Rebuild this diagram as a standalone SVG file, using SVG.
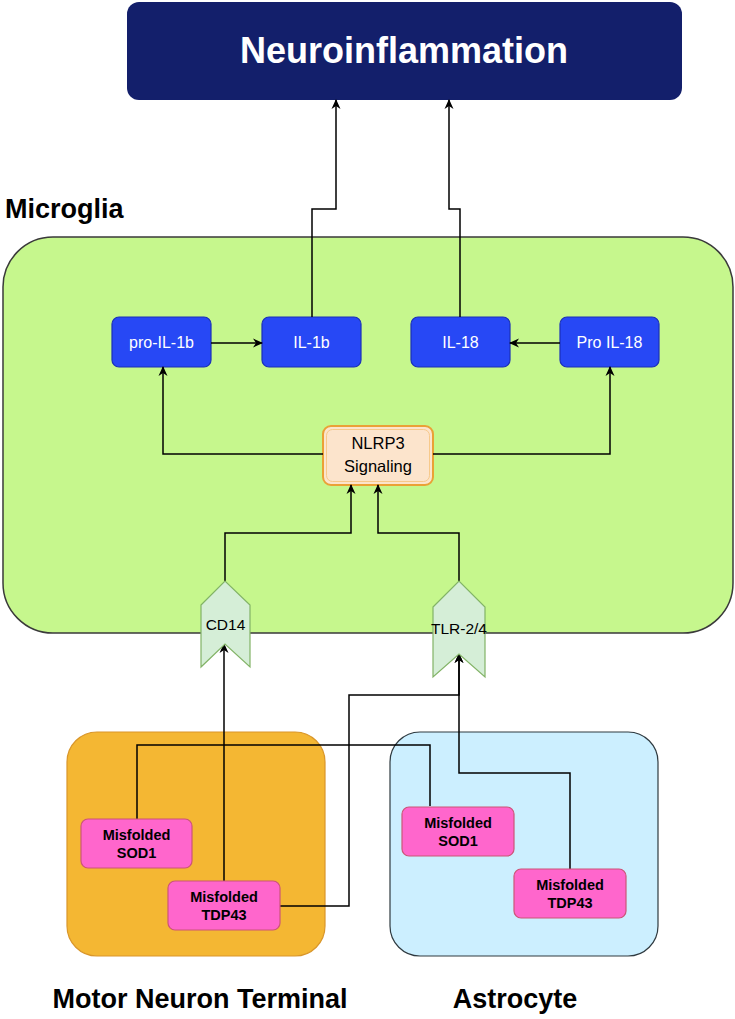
<svg xmlns="http://www.w3.org/2000/svg" width="735" height="1019" viewBox="0 0 735 1019">
<defs>
<marker id="arr" markerWidth="10" markerHeight="10" refX="9" refY="5" orient="auto" markerUnits="userSpaceOnUse">
<path d="M0,0.5 L10,5 L0,9.5 L3,5 z" fill="#000"/>
</marker>
<style>
.lbl{font-family:"Liberation Sans",Arial,sans-serif;font-weight:bold;fill:#000;}
.blue rect{fill:#2748f5;stroke:#1b30b8;stroke-width:1.2;}
.blue text{font-family:"Liberation Sans",Arial,sans-serif;font-size:16px;fill:#fff;text-anchor:middle;}
.pink rect{fill:#ff66cc;stroke:#cc5577;stroke-width:1.2;}
.pink text{font-family:"Liberation Sans",Arial,sans-serif;font-size:14.5px;font-weight:bold;fill:#000;text-anchor:middle;}
.rec polygon{fill:#d5eed7;stroke:#82b366;stroke-width:1.2;}
.rec text{font-family:"Liberation Sans",Arial,sans-serif;font-size:15.5px;fill:#000;text-anchor:middle;}
.conn path{fill:none;stroke:#000;stroke-width:1.5;}
</style>
</defs>
<rect width="735" height="1019" fill="#fff"/>

<g id="neuroinflammation">
<rect x="127" y="2" width="555" height="98" rx="12" fill="#131f6b"/>
<text x="404" y="63" class="lbl" font-size="36" style="fill:#fff" text-anchor="middle">Neuroinflammation</text>
</g>

<g id="microglia">
<text x="5" y="218" class="lbl" font-size="27">Microglia</text>
<rect x="3" y="237" width="730" height="396" rx="50" fill="#c6f78d" stroke="#3a3a3a" stroke-width="1.5"/>
</g>

<g id="motor-neuron">
<rect x="67" y="732" width="258" height="224" rx="30" fill="#f4b733" stroke="#d9962a" stroke-width="1.2"/>
<text x="200" y="1008" class="lbl" font-size="27" text-anchor="middle">Motor Neuron Terminal</text>
</g>

<g id="astrocyte">
<rect x="390" y="732" width="268" height="224" rx="30" fill="#ccefff" stroke="#2f3a40" stroke-width="1.2"/>
<text x="515" y="1008" class="lbl" font-size="27" text-anchor="middle">Astrocyte</text>
</g>

<g id="pro-il-1b" class="blue"><rect x="112" y="317" width="99" height="50" rx="7"/><text x="161.5" y="348">pro-IL-1b</text></g>
<g id="il-1b" class="blue"><rect x="262" y="317" width="99" height="50" rx="7"/><text x="311.5" y="348">IL-1b</text></g>
<g id="il-18" class="blue"><rect x="411" y="317" width="99" height="50" rx="7"/><text x="460.5" y="348">IL-18</text></g>
<g id="pro-il-18" class="blue"><rect x="560" y="317" width="99" height="50" rx="7"/><text x="609.5" y="348">Pro IL-18</text></g>

<g id="nlrp3">
<rect x="323" y="426" width="110" height="59" rx="8" fill="#fce4cc" stroke="#eaa136" stroke-width="2"/>
<rect x="326.5" y="429.5" width="103" height="52" rx="6" fill="none" stroke="#f7c98a" stroke-width="1"/>
<text x="378" y="449" font-family="Liberation Sans, Arial, sans-serif" font-size="16.5" text-anchor="middle">NLRP3</text>
<text x="378" y="472" font-family="Liberation Sans, Arial, sans-serif" font-size="16.5" text-anchor="middle">Signaling</text>
</g>

<g id="connectors" class="conn">
<path d="M312,317 V209 H336 V100" marker-end="url(#arr)"/>
<path d="M460,317 V209 H449 V100" marker-end="url(#arr)"/>
<path d="M211,343 H262" marker-end="url(#arr)"/>
<path d="M560,343 H510" marker-end="url(#arr)"/>
<path d="M323,454 H163 V367" marker-end="url(#arr)"/>
<path d="M433,454 H610 V367" marker-end="url(#arr)"/>
<path d="M225,581 V533 H351 V485" marker-end="url(#arr)"/>
<path d="M459,581 V533 H378 V485" marker-end="url(#arr)"/>
<path d="M224,881 V644" marker-end="url(#arr)"/>
<path d="M280,906 H349 V695 H459 V654" marker-end="url(#arr)"/>
<path d="M570,869 V773 H459 V654" marker-end="url(#arr)"/>
<path d="M137,819 V745 H430 V806"/>
</g>

<g id="cd14" class="rec">
<polygon points="201,605 225,581 250,605 250,667 225,644 201,667"/>
<text x="225.5" y="630">CD14</text>
</g>
<g id="tlr-2-4" class="rec">
<polygon points="433,607 459,581 485,607 485,677 459,654 433,677"/>
<text x="459" y="634">TLR-2/4</text>
</g>

<g id="motor-sod1" class="pink"><rect x="81" y="819" width="111" height="49" rx="7"/><text x="136.5" y="840">Misfolded</text><text x="136.5" y="858">SOD1</text></g>
<g id="motor-tdp43" class="pink"><rect x="168" y="881" width="112" height="49" rx="7"/><text x="224" y="902">Misfolded</text><text x="224" y="920">TDP43</text></g>
<g id="astro-sod1" class="pink"><rect x="402" y="807" width="112" height="49" rx="7"/><text x="458" y="828">Misfolded</text><text x="458" y="846">SOD1</text></g>
<g id="astro-tdp43" class="pink"><rect x="514" y="869" width="112" height="49" rx="7"/><text x="570" y="890">Misfolded</text><text x="570" y="908">TDP43</text></g>
</svg>
